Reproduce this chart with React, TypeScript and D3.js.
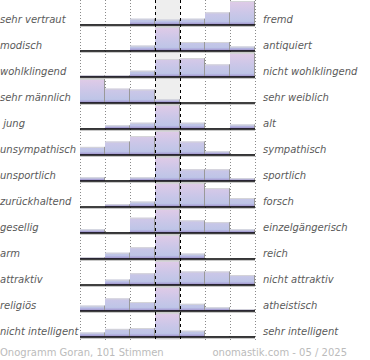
import React from "react";
import * as d3 from "d3";

const leftLabels = [
  "sehr vertraut", "modisch", "wohlklingend", "sehr männlich", " jung",
  "unsympathisch", "unsportlich", "zurückhaltend", "gesellig", "arm",
  "attraktiv", "religiös", "nicht intelligent",
];
const rightLabels = [
  "fremd", "antiquiert", "nicht wohlklingend", "sehr weiblich", "alt",
  "sympathisch", "sportlich", "forsch", "einzelgängerisch", "reich",
  "nicht attraktiv", "atheistisch", "sehr intelligent",
];
// percentage of votes for each of the 7 scale positions
const values: number[][] = [
  [1, 0, 7, 6, 7, 14, 65],
  [1, 1, 6, 67, 10, 10, 5],
  [2, 2, 7, 20, 21, 14, 34],
  [64, 16, 15, 4, 0, 1, 0],
  [1, 4, 7, 75, 7, 1, 5],
  [9, 15, 21, 35, 15, 4, 1],
  [4, 1, 4, 62, 13, 13, 3],
  [0, 3, 6, 30, 30, 21, 10],
  [4, 1, 17, 48, 14, 12, 4],
  [2, 7, 13, 71, 6, 0, 1],
  [0, 6, 13, 40, 15, 15, 11],
  [6, 14, 10, 56, 8, 4, 2],
  [5, 9, 10, 67, 7, 1, 1],
];
const footerLeft = "Onogramm Goran, 101 Stimmen";
const footerRight = "onomastik.com - 05 / 2025";

const W = 370;
const H = 360;
const x = d3.scaleBand<number>().domain(d3.range(7)).range([80, 255]).paddingInner(0).paddingOuter(0);
const baseline = d3.scaleLinear().domain([0, 12]).range([25, 337]);
const hScale = d3.scaleLinear().domain([0, 100]).range([0, 90]);
const MAXH = 24;
const barH = (v: number) => Math.min(hScale(v), MAXH);

export default function App() {
  const bw = x.bandwidth();
  const gridXs = [0, 1, 2, 5, 6].map((i) => x(i)!).concat([x(6)! + bw]);
  const dashXs = [x(3)!, x(3)! + bw];
  const font = "'DejaVu Sans', sans-serif";
  return (
    <svg width={W} height={H} style={{ position: "absolute", left: 0, top: 0, background: "#fff" }}>
      <defs>
        {values.map((_, r) => (
          <linearGradient key={r} id={`g${r}`} gradientUnits="userSpaceOnUse" x1={0} x2={0} y1={baseline(r) - MAXH} y2={baseline(r)}>
            <stop offset="0" stopColor="#e0cbe7" />
            <stop offset="0.45" stopColor="#cdc7e8" />
            <stop offset="0.85" stopColor="#bec5e7" />
            <stop offset="0.9" stopColor="#b2b2df" />
            <stop offset="1" stopColor="#9a88c4" />
          </linearGradient>
        ))}
      </defs>
      <rect x={x(3)} y={0} width={bw} height={340} fill="#eeeeee" />
      {gridXs.map((gx, i) => (
        <line key={i} x1={gx + 0.5} x2={gx + 0.5} y1={0} y2={340} stroke="#8a8a8a" strokeWidth={1} strokeDasharray="1,2" />
      ))}
      {values.map((row, r) => {
        const b = baseline(r);
        return (
          <g key={r}>
            {row.map((v, c) => {
              const h = barH(v);
              if (h <= 0) return null;
              const x0 = x(c)!;
              return (
                <g key={c}>
                  <rect x={x0} y={b - h} width={bw} height={h} fill={`url(#g${r})`} />
                  <line x1={x0} x2={x0 + bw} y1={b - h + 0.5} y2={b - h + 0.5} stroke="#d4d4d8" strokeWidth={1} />
                  <line x1={x0 + bw - 0.5} x2={x0 + bw - 0.5} y1={b - h} y2={b} stroke="#999" strokeWidth={1} />
                </g>
              );
            })}
            <line x1={80} x2={255} y1={b + 1.5} y2={b + 1.5} stroke="#c8c8c8" strokeWidth={1} />
            <line x1={80} x2={255} y1={b} y2={b} stroke="#000" strokeWidth={1.6} />
            <text x={0} y={b - 2} fontFamily={font} fontSize={10} fontStyle="italic" fill="#5a5a5a" style={{ whiteSpace: "pre" }}>
              {leftLabels[r]}
            </text>
            <text x={263} y={b - 2} fontFamily={font} fontSize={10} fontStyle="italic" fill="#5a5a5a">
              {rightLabels[r]}
            </text>
          </g>
        );
      })}
      {dashXs.map((dx, i) => (
        <line key={i} x1={dx + 0.5} x2={dx + 0.5} y1={0} y2={340} stroke="#000" strokeWidth={1} strokeDasharray="3,3" />
      ))}
      <text x={0} y={356} fontFamily={font} fontSize={10} fill="#bbb">{footerLeft}</text>
      <text x={347} y={356} textAnchor="end" fontFamily={font} fontSize={10} fill="#bbb">{footerRight}</text>
    </svg>
  );
}
